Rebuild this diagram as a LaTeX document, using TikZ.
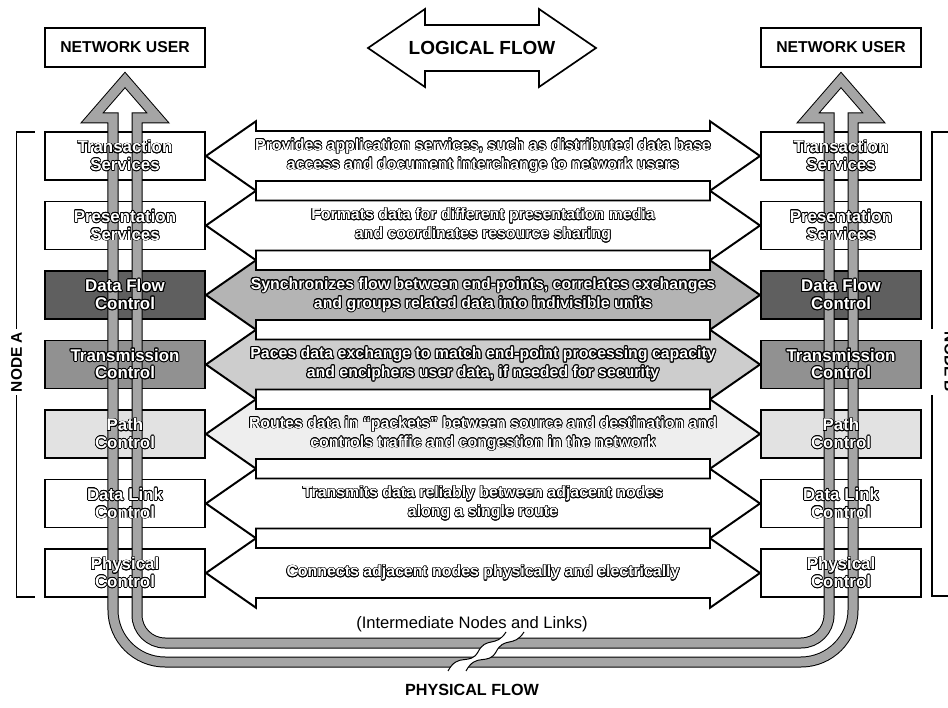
\documentclass[tikz,border=0pt]{standalone}
\usepackage{fontspec}
\setmainfont{Liberation Sans}
\usepackage{contour}
\usepackage{tikz}
\usetikzlibrary{calc}
\definecolor{tubegray}{RGB}{165,165,165}
\definecolor{dfbox}{RGB}{95,95,95}
\definecolor{dfarrow}{RGB}{180,180,180}
\definecolor{tcbox}{RGB}{145,145,145}
\definecolor{tcarrow}{RGB}{205,205,205}
\definecolor{pcbox}{RGB}{226,226,226}
\definecolor{pcarrow}{RGB}{238,238,238}
\contourlength{0.45pt}
\newcommand{\hollow}[1]{\contour{black}{#1}}
\newcommand{\bhollow}[1]{{\contourlength{0.7pt}\contour{black}{#1}}}
\newcommand{\pair}[2]{\hollow{#1}\\\hollow{#2}}
\newcommand{\bpair}[2]{\bhollow{#1}\\\bhollow{#2}}

\begin{document}
\begin{tikzpicture}[
  x=0.025cm, y=-0.025cm,
  layerbox/.style={draw, line width=1.4pt, minimum width=4cm, minimum height=1.2cm, inner sep=0pt},
  layarrow/.style={draw, line width=1.4pt, line join=miter},
  boxtext/.style={text=white, align=center, font=\bfseries\fontsize{12}{12.5}\selectfont},
  midtext/.style={text=white, align=center, font=\bfseries\fontsize{11.3}{13.5}\selectfont},
  userbox/.style={draw, line width=1.2pt, minimum width=4cm, minimum height=0.975cm,
    font=\bfseries\fontsize{11.2}{13}\selectfont},
  tubewall/.style={draw=black, line width=0.275cm, line join=miter,
    postaction={draw=tubegray, line width=0.225cm, line join=miter}},
  bracketline/.style={draw, line width=1.2pt}
]
  \useasboundingbox (0,0) rectangle (948,708);

  % users and logical flow
  \node[userbox] (userA) at (125,47.5) {NETWORK USER};
  \node[userbox] (userB) at (841,47.5) {NETWORK USER};
  \node[font=\bfseries\fontsize{13.5}{15}\selectfont] (logic) at (482,48) {LOGICAL FLOW};
  \draw[layarrow, line width=1.2pt] ($(logic)+(-114,0)$) -- ++(57,-39) -- ++(0,16)
    -- ($(logic)+(57,-23)$) -- ++(0,-16) -- ($(logic)+(114,0)$) -- ++(-57,39)
    -- ++(0,-16) -- ($(logic)+(-57,23)$) -- ++(0,16) -- cycle;

  % layers of both nodes
  \foreach \i/\fb/\fa in {1/white/white, 2/white/white, 3/dfbox/dfarrow, 4/tcbox/tcarrow,
                          5/pcbox/pcarrow, 6/white/white, 7/white/white}{
    \pgfmathsetmacro{\c}{156+69.5*(\i-1)}
    \node[layerbox, fill=\fb] (L\i) at (125,\c) {};
    \node[layerbox, fill=\fb] (R\i) at (841,\c) {};
    \draw[layarrow, fill=\fa] (L\i.east) -- ++(50,-34.75) -- ++(0,9.75)
      -- ($(R\i.west)+(-50,-25)$) -- ++(0,-9.75) -- (R\i.west) -- ++(-50,34.75)
      -- ++(0,-9.75) -- ($(L\i.east)+(50,25)$) -- ++(0,9.75) -- cycle;
  }

  % physical flow tube
  \path[tubewall] (125,80) -- (158,118) -- (137,118) -- (137,615)
    .. controls (137,630.5) and (149.5,643) .. (165,643) -- (801,643)
    .. controls (816.5,643) and (829,630.5) .. (829,615) -- (829,118)
    -- (808,118) -- (841,80) -- (874,118) -- (853,118) -- (853,610)
    .. controls (853,638.7) and (829.7,662) .. (801,662) -- (165,662)
    .. controls (136.3,662) and (113,638.7) .. (113,610) -- (113,118)
    -- (92,118) -- cycle;
  \fill[white] (448,671) .. controls (458,652) and (470,666) .. (478,652)
    .. controls (486,636) and (496,648) .. (506,632) -- (524,632)
    .. controls (514,648) and (504,636) .. (496,652)
    .. controls (488,666) and (476,652) .. (466,671) -- cycle;
  \draw[line width=0.7pt] (448,671) .. controls (458,652) and (470,666) .. (478,652)
    .. controls (486,636) and (496,648) .. (506,632);
  \draw[line width=0.7pt] (466,671) .. controls (476,652) and (488,666) .. (496,652)
    .. controls (504,636) and (514,648) .. (524,632);

  % layer texts
  \foreach \i/\lbl/\desc in {
    1/{\pair{Transaction}{Services}}/{\pair{Provides application services, such as distributed data base}{access and document interchange to network users}},
    2/{\pair{Presentation}{Services}}/{\pair{Formats data for different presentation media}{and coordinates resource sharing}},
    3/{\bpair{Data Flow}{Control}}/{\bpair{Synchronizes flow between end-points, correlates exchanges}{and groups related data into indivisible units}},
    4/{\bpair{Transmission}{Control}}/{\bpair{Paces data exchange to match end-point processing capacity}{and enciphers user data, if needed for security}},
    5/{\pair{Path}{Control}}/{\pair{Routes data in ``packets'' between source and destination and}{controls traffic and congestion in the network}},
    6/{\pair{Data Link}{Control}}/{\pair{Transmits data reliably between adjacent nodes}{along a single route}},
    7/{\pair{Physical}{Control}}/{\hollow{Connects adjacent nodes physically and electrically}}}{
    \node[boxtext] (Ltxt\i) at (L\i) {\lbl};
    \node[boxtext] (Rtxt\i) at (R\i) {\lbl};
    \node[midtext] (Mtxt\i) at ($(L\i.east)!0.5!(R\i.west)$) {\desc};
  }

  % node brackets
  \node[rotate=90, inner sep=2pt, font=\bfseries\fontsize{11}{13}\selectfont] (nodeA) at (16.5,362) {NODE A};
  \draw[bracketline] (nodeA.east) |- (35,132);
  \draw[bracketline] (nodeA.west) |- (35,597);
  \node[rotate=-90, inner sep=2pt, font=\bfseries\fontsize{11}{13}\selectfont] (nodeB) at (950,362) {NODE B};
  \draw[bracketline] ($(nodeB.west)+(-18,0)$) |- (948,132);
  \draw[bracketline] ($(nodeB.east)+(-18,0)$) |- (948,596);

  % bottom labels
  \node[font=\fontsize{11.8}{13}\selectfont] (interm) at (472,624) {(Intermediate Nodes and Links)};
  \node[font=\bfseries\fontsize{11.5}{13}\selectfont] (phys) at (472,690) {PHYSICAL FLOW};
\end{tikzpicture}
\end{document}
